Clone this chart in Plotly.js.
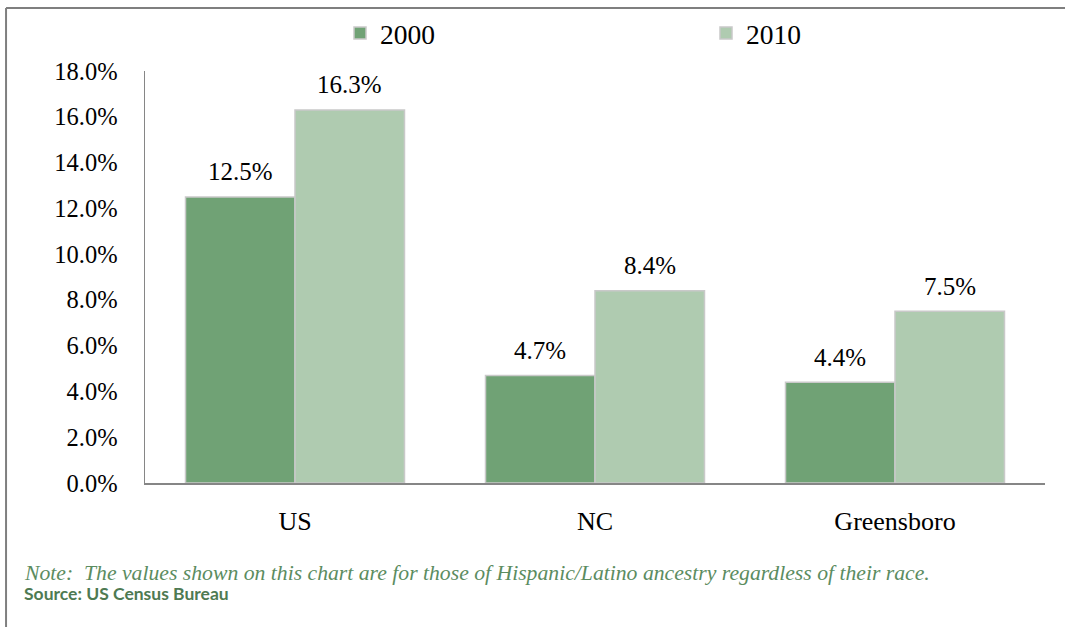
<!DOCTYPE html>
<html>
<head>
<meta charset="utf-8">
<script src="https://cdn.plot.ly/plotly-3.0.1.min.js"></script>
<style>
  html, body { margin: 0; padding: 0; background: #ffffff; }
  #chart { width: 1065px; height: 627px; }
</style>
</head>
<body>
<div id="chart"></div>
<script>
const categories = ["US", "NC", "Greensboro"];
const series2000 = [12.5, 4.7, 4.4];
const series2010 = [16.3, 8.4, 7.5];
const seriesNames = ["2000", "2010"];
const noteText = "Note:  The values shown on this chart are for those of Hispanic/Latino ancestry regardless of their race.";
const sourceText = "Source: US Census Bureau";

const serif = "Liberation Serif";
const BARGAP = 0.27;
const halfBar = (1 - BARGAP) / 4;

const traces = [
  {
    type: "bar", name: seriesNames[0], x: categories, y: series2000,
    marker: { color: "#70a275", line: { color: "#c9c9c9", width: 1.5 } },
    hoverinfo: "skip", legend: "legend"
  },
  {
    type: "bar", name: seriesNames[1], x: categories, y: series2010,
    marker: { color: "#afcbb0", line: { color: "#c9c9c9", width: 1.5 } },
    hoverinfo: "skip", legend: "legend2"
  }
];

const labelFont = { family: serif, size: 25, color: "#000000" };
const valueLabels = [];
[series2000, series2010].forEach((vals, s) => {
  vals.forEach((v, i) => {
    valueLabels.push({
      xref: "x", yref: "y", x: i + (s === 0 ? -halfBar : halfBar), y: v,
      xanchor: "center", yanchor: "middle", yshift: 25,
      showarrow: false, text: v.toFixed(1) + "%", font: labelFont
    });
  });
});

const legendCommon = {
  orientation: "h", xref: "container", yref: "container", xanchor: "left",
  y: 1 - 33 / 627, yanchor: "middle",
  font: { family: serif, size: 27.5, color: "#000000" },
  bgcolor: "rgba(0,0,0,0)", itemwidth: 30
};

const layout = {
  width: 1065, height: 627,
  margin: { l: 145, r: 20, t: 71, b: 144 },
  paper_bgcolor: "#ffffff", plot_bgcolor: "#ffffff",
  font: { family: serif, size: 24, color: "#000000" },
  barmode: "group", bargap: BARGAP, bargroupgap: 0,
  showlegend: true,
  legend: Object.assign({}, legendCommon, { x: 340 / 1065 }),
  legend2: Object.assign({}, legendCommon, { x: 706 / 1065 }),
  xaxis: {
    type: "category", showgrid: false, zeroline: false,
    showline: true, linecolor: "#868686", linewidth: 2,
    ticks: "", ticklabelstandoff: 14,
    tickfont: { family: serif, size: 26, color: "#000000" }
  },
  yaxis: {
    range: [0, 18], dtick: 2, tick0: 0, tickformat: ".1f", ticksuffix: "%",
    showgrid: false, zeroline: false,
    showline: true, linecolor: "#868686", linewidth: 1.5,
    ticks: "", ticklabelstandoff: 21,
    tickfont: { family: serif, size: 24.5, color: "#000000" }
  },
  shapes: [
    { type: "line", xref: "paper", yref: "paper", x0: -0.1544, x1: -0.1544, y0: 1.1529, y1: -0.40,
      line: { color: "#7f7f7f", width: 2 } },
    { type: "line", xref: "paper", yref: "paper", x0: -0.1544, x1: 1.05, y0: 1.1529, y1: 1.1529,
      line: { color: "#7f7f7f", width: 2 } }
  ],
  annotations: valueLabels.concat([
    { xref: "paper", yref: "paper", x: -0.1367, y: -0.2184, xanchor: "left", yanchor: "middle",
      showarrow: false, text: "<i>" + noteText + "</i>",
      font: { family: serif, size: 21.7, color: "#5b8c5f" } },
    { xref: "paper", yref: "paper", x: -0.1367, y: -0.2694, xanchor: "left", yanchor: "middle",
      showarrow: false, text: "<b>" + sourceText + "</b>",
      font: { family: "Lato", size: 17.5, color: "#4e7a52" } }
  ])
};

Plotly.newPlot("chart", traces, layout, { displayModeBar: false, staticPlot: true });
</script>
</body>
</html>
